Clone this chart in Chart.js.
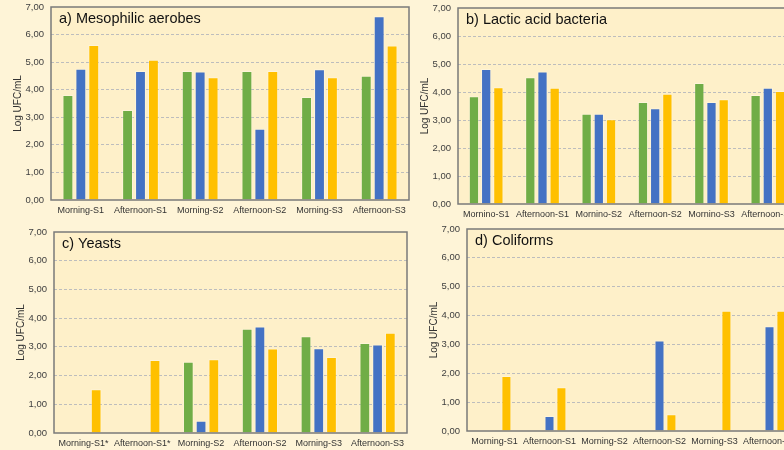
<!DOCTYPE html>
<html>
<head>
<meta charset="utf-8">
<script src="https://cdn.jsdelivr.net/npm/chart.js@4/dist/chart.umd.min.js"></script>
<style>
  html, body { margin: 0; padding: 0; }
  body { width: 784px; height: 450px; overflow: hidden; background: #FEF4D7; position: relative; }
  .panel { position: absolute; }
  .panel canvas { display: block; }
</style>
</head>
<body>
<div class="panel" id="pa" style="left:0px;top:0px;"><canvas id="ca" width="411" height="220"></canvas></div>
<div class="panel" id="pb" style="left:407px;top:1px;"><canvas id="cb" width="391" height="223"></canvas></div>
<div class="panel" id="pc" style="left:3px;top:225px;"><canvas id="cc" width="406" height="228"></canvas></div>
<div class="panel" id="pd" style="left:416px;top:222px;"><canvas id="cd" width="383" height="229"></canvas></div>
<script>
// Sampling moments (x categories)
const categories = ['Morning-S1', 'Afternoon-S1', 'Morning-S2', 'Afternoon-S2', 'Morning-S3', 'Afternoon-S3'];
const categoriesLab = ['Mornino-S1', 'Afternoon-S1', 'Mornino-S2', 'Afternoon-S2', 'Mornino-S3', 'Afternoon-S3'];
const categoriesYeast = ['Morning-S1*', 'Afternoon-S1*', 'Morning-S2', 'Afternoon-S2', 'Morning-S3', 'Afternoon-S3'];

// Panel titles
const titleA = 'a) Mesophilic aerobes';
const titleB = 'b) Lactic acid bacteria';
const titleC = 'c) Yeasts';
const titleD = 'd) Coliforms';

// Log UFC/mL counts, three sampling points per moment (null = not detected)
const mesophilicGreen  = [3.81, 3.26, 4.68, 4.68, 3.74, 4.51];
const mesophilicBlue   = [4.76, 4.68, 4.66, 2.58, 4.74, 6.66];
const mesophilicYellow = [5.62, 5.09, 4.45, 4.68, 4.45, 5.60];

const lacticGreen  = [3.85, 4.53, 3.22, 3.64, 4.32, 3.89];
const lacticBlue   = [4.82, 4.73, 3.22, 3.42, 3.64, 4.15];
const lacticYellow = [4.17, 4.15, 3.03, 3.94, 3.74, 4.04];

const yeastGreen  = [null, null, 2.48, 3.63, 3.37, 3.13];
const yeastBlue   = [null, null, 0.43, 3.71, 2.95, 3.08];
const yeastYellow = [1.52, 2.54, 2.57, 2.94, 2.65, 3.49];

const coliformGreen  = [null, null, null, null, null, null];
const coliformBlue   = [null, 0.52, null, 3.14, null, 3.63];
const coliformYellow = [1.91, 1.52, null, 0.58, 4.17, 4.17];

// Y axis ticks
const yTicks = [0, 1, 2, 3, 4, 5, 6, 7];

const FONT = '"Liberation Sans", Arial, sans-serif';
const GREEN = '#70AD47', BLUE = '#4472C4', YELLOW = '#FFC000';

const panelPlugin = {
  id: 'panelFrame',
  beforeDraw(chart, args, opts) {
    const a = chart.chartArea, ctx = chart.ctx;
    ctx.save();
    ctx.fillStyle = '#FEF0C9';
    ctx.fillRect(a.left, a.top, a.right - a.left, a.bottom - a.top);
    ctx.restore();
  },
  afterDraw(chart, args, opts) {
    const a = chart.chartArea, ctx = chart.ctx;
    ctx.save();
    ctx.strokeStyle = '#7A7A7A';
    ctx.lineWidth = 1.5;
    ctx.strokeRect(a.left, a.top, a.right - a.left, a.bottom - a.top);
    ctx.fillStyle = '#111111';
    ctx.font = '14.5px ' + FONT;
    ctx.textBaseline = 'middle';
    ctx.textAlign = 'left';
    ctx.fillText(opts.title, a.left + 8, a.top + 12);
    ctx.restore();
  }
};

function makePanel(canvasId, title, labels, green, blue, yellow, padTop) {
  const ds = (data, color) => ({
    data: data,
    backgroundColor: color,
    borderColor: 'rgba(255,255,255,0.3)',
    borderWidth: 1,
    categoryPercentage: 0.65,
    barPercentage: 0.84
  });
  return new Chart(document.getElementById(canvasId), {
    type: 'bar',
    data: {
      labels: labels,
      datasets: [ds(green, GREEN), ds(blue, BLUE), ds(yellow, YELLOW)]
    },
    options: {
      responsive: false,
      animation: false,
      events: [],
      layout: { padding: { left: 7, right: 2, top: padTop, bottom: 0 } },
      plugins: {
        legend: { display: false },
        tooltip: { enabled: false },
        panelFrame: { title: title }
      },
      scales: {
        x: {
          grid: { display: false, drawTicks: false },
          border: { display: false },
          ticks: {
            color: '#333333',
            font: { family: FONT, size: 9 },
            padding: 5,
            autoSkip: false,
            maxRotation: 0,
            minRotation: 0
          },
          afterFit(s) { s.height = 20; s.paddingLeft = 0; s.paddingRight = 0; }
        },
        y: {
          min: yTicks[0],
          max: yTicks[yTicks.length - 1],
          afterBuildTicks(s) { s.ticks = yTicks.map(v => ({ value: v })); },
          grid: {
            drawTicks: false,
            color: ctx => (ctx.tick && ctx.tick.value > 0 && ctx.tick.value < 7) ? '#BDBDBD' : 'rgba(0,0,0,0)',
            lineWidth: 1
          },
          border: { display: false, dash: [3, 2] },
          ticks: {
            color: '#404040',
            font: { family: FONT, size: 9.5 },
            padding: 7,
            callback: v => Number(v).toFixed(2).replace('.', ',')
          },
          title: {
            display: true,
            text: 'Log UFC/mL',
            color: '#333333',
            font: { family: FONT, size: 10 },
            padding: { top: 5, bottom: 0 }
          },
          afterFit(s) { s.width = 44; s.paddingTop = 0; s.paddingBottom = 0; }
        }
      }
    },
    plugins: [panelPlugin]
  });
}

makePanel('ca', titleA, categories, mesophilicGreen, mesophilicBlue, mesophilicYellow, 7);
makePanel('cb', titleB, categoriesLab, lacticGreen, lacticBlue, lacticYellow, 7);
makePanel('cc', titleC, categoriesYeast, yeastGreen, yeastBlue, yeastYellow, 7);
makePanel('cd', titleD, categories, coliformGreen, coliformBlue, coliformYellow, 7);
</script>
</body>
</html>
